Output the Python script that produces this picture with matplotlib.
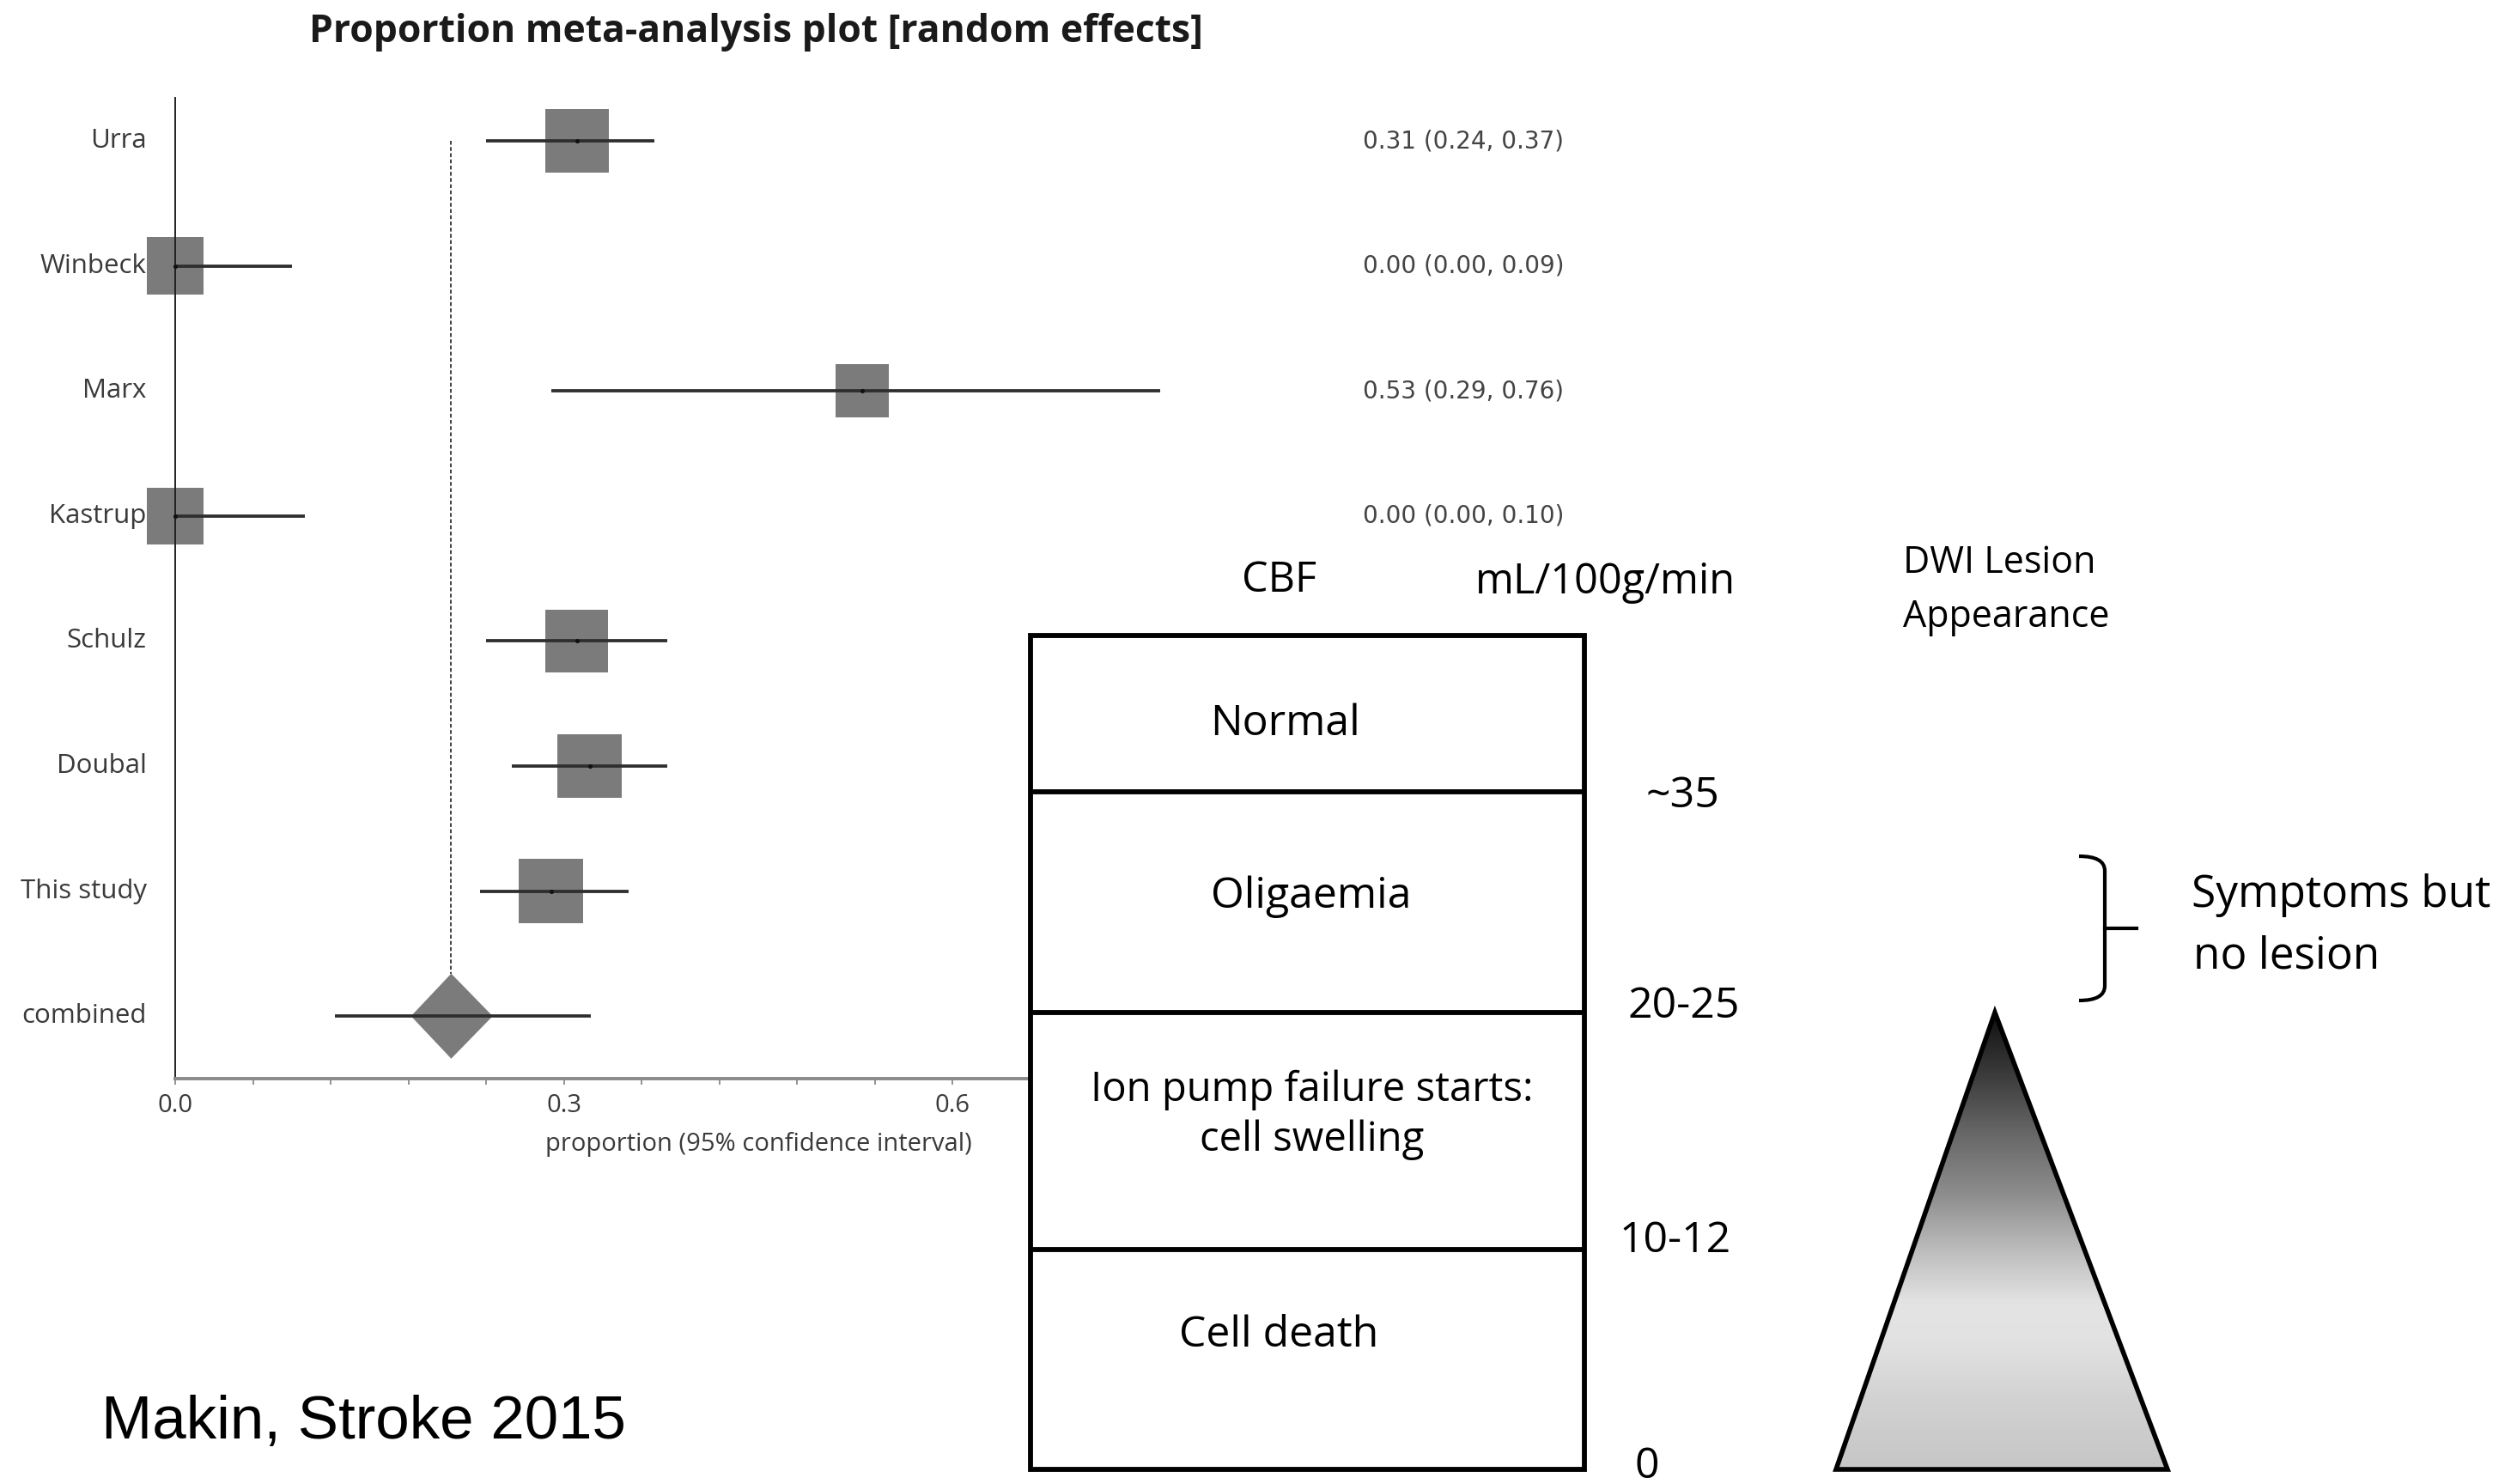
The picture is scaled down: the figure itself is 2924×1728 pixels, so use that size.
import numpy as np
import matplotlib
matplotlib.use("Agg")
import matplotlib.pyplot as plt
from matplotlib.patches import Polygon, Rectangle, PathPatch
from matplotlib.path import Path
from matplotlib.colors import LinearSegmentedColormap

# forest plot data: proportion with 95% CI per study
studies = ["Urra", "Winbeck", "Marx", "Kastrup", "Schulz", "Doubal", "This study"]
estimates = [0.31, 0.00, 0.53, 0.00, 0.31, 0.32, 0.29]
ci_low = [0.24, 0.00, 0.29, 0.00, 0.24, 0.26, 0.235]
ci_high = [0.37, 0.09, 0.76, 0.10, 0.38, 0.38, 0.35]
weights = [15.8, 12.9, 11.1, 12.5, 15.3, 16.2, 16.2]   # % weight, square area
n_labelled = 4   # rows further down have their text column under the CBF panel

pooled = 0.213
pooled_ci = (0.182, 0.245)
pooled_pi = (0.123, 0.321)

# CBF thresholds panel
zones = ["Normal", "Oligaemia", "Ion pump failure starts:\ncell swelling", "Cell death"]
thresholds = ["~35", "20-25", "10-12", "0"]

W, H = 2924, 1728
fig = plt.figure(figsize=(W / 100, H / 100), dpi=100)
fig.patch.set_facecolor("white")

lab_font = "Open Sans"
gray_txt = "#3a3a3a"

# ---- forest plot ----
x0_px, px_per_unit = 204, 1509
xmax = 0.9
top_px, bot_px = 114, 1256
row0_px, row_step = 164, 145.6
ax = fig.add_axes([x0_px / W, 1 - bot_px / H, xmax * px_per_unit / W, (bot_px - top_px) / H])
ax.set_xlim(0, xmax)
ax.set_ylim((bot_px - row0_px) / row_step, -(row0_px - top_px) / row_step)
for s in ["top", "right"]:
    ax.spines[s].set_visible(False)
ax.spines["left"].set_color("#222222")
ax.spines["left"].set_linewidth(1.4)
ax.spines["bottom"].set_color("#8a8a8a")
ax.spines["bottom"].set_linewidth(2.8)
ax.set_yticks([])
ax.set_xticks([0.0, 0.3, 0.6])
ax.set_xticklabels(["0.0", "0.3", "0.6"])
ax.set_xticks(np.arange(0.06, 0.6, 0.06), minor=True)
ax.tick_params(axis="x", which="both", direction="out", length=5, width=1.3,
               color="#8a8a8a", labelsize=21, labelcolor=gray_txt, pad=7)
for t in ax.get_xticklabels():
    t.set_fontfamily(lab_font)
ax.set_xlabel("proportion (95% confidence interval)", fontsize=21, color=gray_txt,
              family=lab_font, labelpad=12)

rows = np.arange(len(studies))
side_px = 18.6 * np.sqrt(weights)
ax.scatter(estimates, rows, marker="s", s=(side_px / (100 / 72)) ** 2,
           color="#7b7b7b", linewidths=0, zorder=2, clip_on=False)
ax.hlines(rows, ci_low, ci_high, color="#2e2e2e", lw=2.7, zorder=3, clip_on=False)
ax.scatter(estimates, rows, marker="o", s=7, color="#111111", zorder=4, clip_on=False)

comb = len(studies)
half_h = 49.5 / row_step
ax.add_patch(Polygon([(pooled_ci[0], comb), (pooled, comb - half_h),
                      (pooled_ci[1], comb), (pooled, comb + half_h)],
                     closed=True, facecolor="#7b7b7b", edgecolor="none", zorder=2))
ax.hlines(comb, pooled_pi[0], pooled_pi[1], color="#2e2e2e", lw=2.7, zorder=3)
ax.plot([pooled, pooled], [0, comb - half_h], color="#333333", lw=1.3,
        ls=(0, (2.5, 1.5)), zorder=1)

for i, name in enumerate(studies + ["combined"]):
    ax.text(-0.022, i, name, ha="right", va="center", fontsize=22.5,
            family=lab_font, color=gray_txt)
for i in range(n_labelled):
    ax.text(0.9165, i, f"{estimates[i]:.2f} ({ci_low[i]:.2f}, {ci_high[i]:.2f})",
            ha="left", va="center", fontsize=20, family="DejaVu Sans", color="#444444")

fig.text(880 / W, 1 - 38 / H, "Proportion meta-analysis plot [random effects]",
         ha="center", va="center", fontsize=32, weight="bold", family=lab_font,
         color="#1a1a1a")

# ---- CBF panel, drawn in pixel coordinates ----
ov = fig.add_axes([0, 0, 1, 1], zorder=5)
ov.set_xlim(0, W)
ov.set_ylim(H, 0)
ov.axis("off")
ov.patch.set_visible(False)

bx0, bx1 = 1200, 1845
edges = [740, 922, 1179, 1455, 1711]
ov.add_patch(Rectangle((bx0, edges[0]), bx1 - bx0, edges[-1] - edges[0],
                       facecolor="white", edgecolor="black", lw=4.2, zorder=1))
ov.hlines(edges[1:-1], bx0, bx1, color="black", lw=4.2, zorder=2)

zone_pos = [(1496, 843), (1527, 1044), (1528, 1298), (1489, 1555)]
zone_size = [36, 36, 34, 36]
for (zx, zy), z, fs in zip(zone_pos, zones, zone_size):
    ov.text(zx, zy, z, ha="center", va="center", fontsize=fs, family=lab_font,
            color="black", linespacing=1.3, zorder=3)

thr_pos = [(1959, 927), (1961, 1172), (1951, 1445), (1918, 1708)]
for (tx, ty), t in zip(thr_pos, thresholds):
    ov.text(tx, ty, t, ha="center", va="center", fontsize=36, family=lab_font, color="black")

ov.text(1490, 676, "CBF", ha="center", va="center", fontsize=35, family=lab_font)
ov.text(1869, 678, "mL/100g/min", ha="center", va="center", fontsize=35, family=lab_font)
ov.text(2216, 656, "DWI Lesion", ha="left", va="center", fontsize=31, family=lab_font)
ov.text(2216, 719, "Appearance", ha="left", va="center", fontsize=31, family=lab_font)
ov.text(2552, 1042, "Symptoms but", ha="left", va="center", fontsize=37, family=lab_font)
ov.text(2554, 1114, "no lesion", ha="left", va="center", fontsize=37, family=lab_font)

# curly bracket
bpath = Path([(2421, 997), (2451, 997), (2451, 1014), (2451, 1148), (2451, 1165), (2421, 1165)],
             [Path.MOVETO, Path.CURVE3, Path.CURVE3, Path.LINETO, Path.CURVE3, Path.CURVE3])
ov.add_patch(PathPatch(bpath, facecolor="none", edgecolor="black", lw=3))
ov.plot([2451, 2488], [1081, 1081], color="black", lw=3)

# lesion triangle with vertical grey gradient
tri = [(2323, 1179), (2138, 1711), (2524, 1711)]
grad = LinearSegmentedColormap.from_list(
    "lesion", [(0.0, "#111111"), (0.13, "#3a3a3a"), (0.26, "#666666"), (0.40, "#8e8e8e"),
               (0.53, "#c0c0c0"), (0.64, "#e4e4e4"), (0.72, "#e2e2e2"), (0.85, "#d2d2d2"),
               (1.0, "#c6c6c6")])
g = np.linspace(0, 1, 400).reshape(-1, 1)
im = ov.imshow(g, cmap=grad, aspect="auto", extent=(2138, 2524, 1711, 1179),
               origin="upper", zorder=1, interpolation="bilinear")
tri_patch = Polygon(tri, closed=True, facecolor="none", edgecolor="black", lw=4, zorder=2)
ov.add_patch(tri_patch)
im.set_clip_path(tri_patch)

fig.text(118 / W, 1 - 1675 / H, "Makin, Stroke 2015", ha="left", va="baseline",
         fontsize=51, family="Liberation Sans", color="black")

fig.savefig("out.png", dpi=100, facecolor="white")
